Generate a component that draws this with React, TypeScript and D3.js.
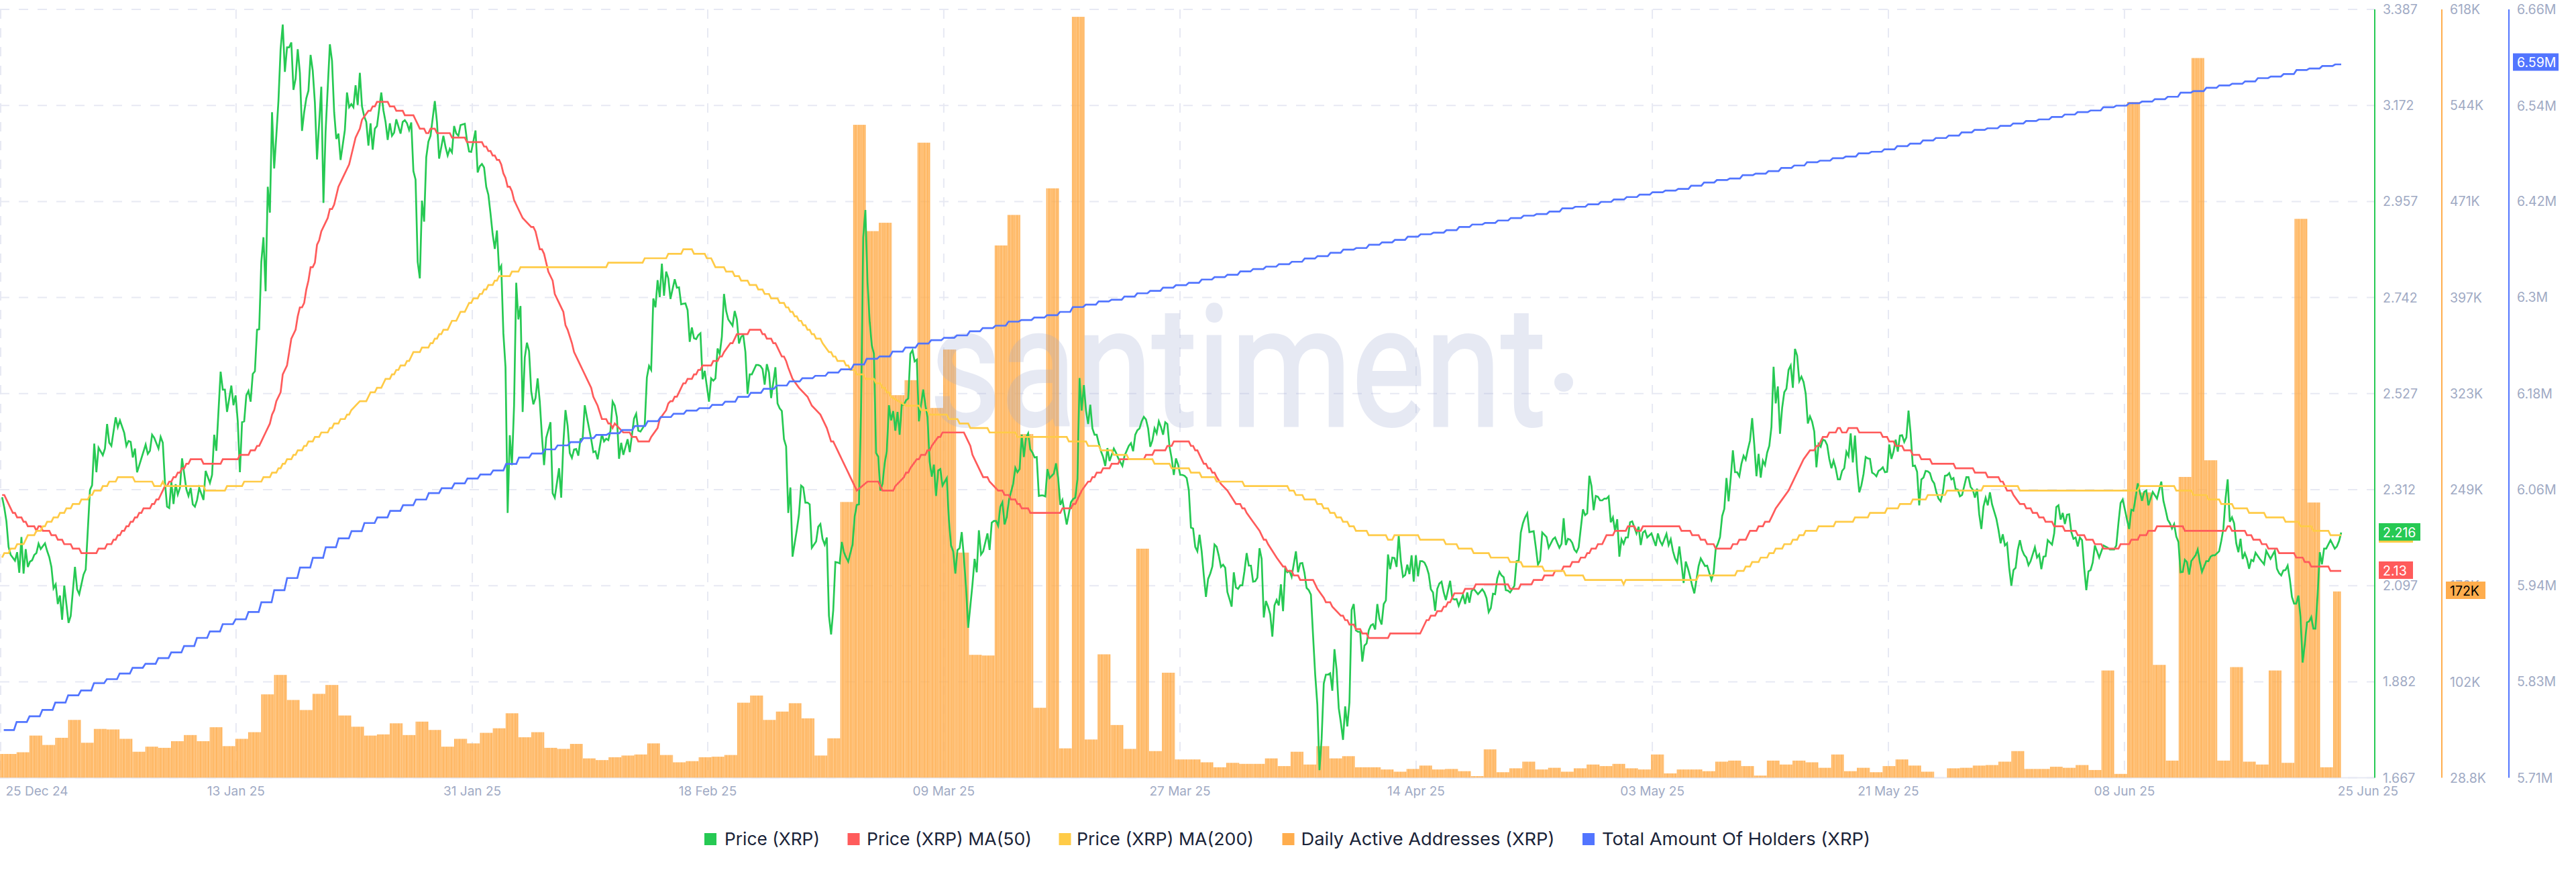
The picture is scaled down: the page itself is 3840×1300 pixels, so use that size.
import React from "react";
import * as d3 from "d3";

// ---- Tick labels ----
const priceTickValues = [3.387, 3.172, 2.957, 2.742, 2.527, 2.312, 2.097, 1.882, 1.667];
const addressTickValues = [618, 544.4, 470.7, 397, 323.4, 249.7, 176, 102.4, 28.8];
const addressTickLabels = ["618K", "544K", "471K", "397K", "323K", "249K", "176K", "102K", "28.8K"];
const holderTickValues = [6.66, 6.541, 6.423, 6.304, 6.185, 6.066, 5.948, 5.829, 5.71];
const holderTickLabels = ["6.66M", "6.54M", "6.42M", "6.3M", "6.18M", "6.06M", "5.94M", "5.83M", "5.71M"];
const dateTickLabels = ["25 Dec 24", "13 Jan 25", "31 Jan 25", "18 Feb 25", "09 Mar 25", "27 Mar 25", "14 Apr 25", "03 May 25", "21 May 25", "08 Jun 25", "25 Jun 25"];
// position of each date tick, in 4-hour samples from the start
const dateTickSamples = [0.3, 110.2, 220.5, 330.4, 440.6, 550.9, 661.1, 771.4, 881.6, 991.8];

const legendLabels = ["Price (XRP)", "Price (XRP) MA(50)", "Price (XRP) MA(200)", "Daily Active Addresses (XRP)", "Total Amount Of Holders (XRP)"];

// ---- Daily active addresses (thousands), one value per day ----
const activeAddresses: (number | null)[] = [
47.1,47.1,48.4,61.2,54.0,59.5,73.2,55.7,66.3,65.9,58.7,48.8,52.7,51.8,56.9,61.6,56.9,67.6,53.1,58.7,63.8,92.8,107.7,88.5,80.8,93.2,100,76.6,68,61.2,
62.1,70.6,61.6,71.9,65.5,52.7,58.7,55.2,63.3,66.8,78.3,59.9,63.8,51.8,51,54.8,43.7,42.4,44.6,45.9,46.7,55.2,46.3,40.7,41.6,44.6,45,46.3,86.4,91.9,
73.2,79.6,86,74.4,45.9,59.1,240.3,529.5,448,454.4,322.2,333.7,515.8,312.4,357.2,201.5,123.1,122.6,437,460.4,292.4,82.5,480.8,51.4,612.3,58.2,123.5,69.3,51,204.5,
49.3,109.4,42.9,42.9,40.7,36.9,40.3,39.5,39.5,43.7,37.8,48.8,39,53.1,43.7,45.4,36.9,36.9,35.2,33.5,35.6,38.2,35.2,35.6,33.9,30.1,50.6,33.1,36.1,41.2,
35.2,36.5,33.5,36.1,39,37.8,39.5,36.1,35.2,46.7,32.2,35.2,35.2,33.9,41.2,42,37.8,30.5,42,39,42,40.7,36.5,46.7,33.9,36.5,33.1,37.8,42.9,38.2,
33.5,null,36.1,36.5,38.2,38.6,41.2,49.3,35.6,35.6,37.3,36.5,38.6,34.8,111.1,31.8,547,247.6,115.4,42,259.5,580.7,272.3,42,113.7,41.2,39,111.1,40.3,457.4,
239.9,36.9,171.7
];

// ---- Total holders (millions), one value per day ----
const holders = [
5.769,5.779,5.786,5.794,5.803,5.812,5.818,5.827,5.832,5.839,5.846,5.851,5.858,5.865,5.873,5.883,5.891,5.900,5.906,5.915,5.927,5.942,5.957,5.970,5.982,5.995,6.006,6.015,6.025,6.032,
6.040,6.047,6.054,6.062,6.068,6.074,6.080,6.085,6.090,6.098,6.106,6.111,6.116,6.121,6.125,6.130,6.134,6.136,6.140,6.145,6.151,6.156,6.160,6.164,6.167,6.171,6.175,6.181,6.186,6.191,
6.195,6.200,6.204,6.207,6.211,6.215,6.221,6.228,6.231,6.237,6.242,6.247,6.251,6.254,6.257,6.262,6.266,6.269,6.274,6.276,6.279,6.282,6.286,6.292,6.295,6.299,6.301,6.305,6.309,6.312,
6.316,6.319,6.322,6.326,6.329,6.332,6.336,6.339,6.342,6.345,6.348,6.352,6.355,6.359,6.363,6.365,6.369,6.372,6.375,6.379,6.382,6.384,6.387,6.391,6.394,6.396,6.399,6.402,6.405,6.407,
6.410,6.414,6.416,6.419,6.422,6.425,6.428,6.431,6.434,6.436,6.438,6.442,6.446,6.449,6.451,6.455,6.457,6.460,6.464,6.467,6.471,6.473,6.476,6.478,6.482,6.484,6.487,6.491,6.494,6.498,
6.501,6.504,6.508,6.511,6.513,6.516,6.519,6.522,6.524,6.527,6.530,6.533,6.535,6.539,6.541,6.544,6.546,6.549,6.552,6.557,6.559,6.563,6.566,6.568,6.571,6.575,6.577,6.580,6.585,6.587,
6.590,6.592,6.594
];

// ---- Price vertices: [4-hour sample, price] ----
const price: [number, number][] = [
[1,2.295],[2,2.272],[3,2.241],[4,2.184],[5,2.166],[7,2.153],[8,2.172],[9,2.126],[10,2.206],[11,2.124],[12,2.179],[13,2.139],[14,2.151],[15,2.154],[16,2.166],[17,2.170],[18,2.191],[19,2.179],[21,2.192],[22,2.175],[23,2.161],[24,2.139],[25,2.091],[26,2.100],[27,2.056],[28,2.075],[29,2.021],[30,2.097],[32,2.014],[33,2.029],[35,2.139],[36,2.089],[37,2.078],[39,2.122],[40,2.133],[42,2.311],[43,2.322],[44,2.415],[45,2.351],[46,2.406],[48,2.389],[49,2.404],[50,2.459],[51,2.417],[52,2.410],[54,2.474],[55,2.452],[56,2.467],[58,2.439],[59,2.410],[60,2.421],[61,2.419],[62,2.384],[63,2.404],[64,2.351],[68,2.413],[69,2.392],[70,2.399],[71,2.435],[72,2.428],[74,2.404],[75,2.430],[76,2.417],[77,2.329],[78,2.274],[79,2.271],[80,2.329],[81,2.280],[82,2.324],[83,2.301],[84,2.316],[85,2.382],[87,2.313],[88,2.298],[89,2.316],[90,2.279],[91,2.274],[92,2.289],[93,2.316],[95,2.289],[96,2.354],[98,2.327],[99,2.345],[100,2.435],[101,2.399],[103,2.576],[104,2.536],[105,2.536],[106,2.486],[108,2.545],[109,2.501],[110,2.523],[111,2.465],[112,2.351],[113,2.463],[114,2.465],[115,2.523],[116,2.533],[117,2.509],[118,2.571],[119,2.577],[120,2.670],[121,2.671],[122,2.822],[123,2.877],[124,2.756],[125,2.990],[126,2.932],[127,3.157],[128,3.031],[129,3.104],[130,3.183],[131,3.298],[132,3.353],[133,3.247],[134,3.302],[135,3.302],[136,3.313],[137,3.207],[138,3.232],[139,3.298],[140,3.245],[141,3.115],[142,3.157],[143,3.188],[144,3.205],[145,3.285],[146,3.250],[147,3.179],[148,3.051],[150,3.214],[151,2.954],[152,3.113],[154,3.309],[155,3.272],[156,3.157],[157,3.097],[158,3.109],[159,3.050],[161,3.117],[162,3.201],[163,3.168],[164,3.175],[165,3.168],[166,3.217],[167,3.173],[168,3.245],[169,3.170],[170,3.148],[171,3.135],[172,3.082],[173,3.132],[174,3.073],[175,3.120],[176,3.126],[178,3.201],[179,3.161],[180,3.135],[181,3.095],[182,3.132],[183,3.104],[184,3.111],[185,3.141],[187,3.109],[188,3.135],[189,3.139],[190,3.132],[191,3.117],[192,3.134],[193,3.025],[194,3.006],[195,2.822],[196,2.785],[197,2.959],[198,2.912],[199,3.056],[200,3.091],[201,3.104],[203,3.182],[204,3.135],[205,3.053],[207,3.104],[208,3.079],[209,3.060],[210,3.075],[211,3.067],[212,3.126],[213,3.109],[214,3.104],[215,3.128],[217,3.131],[218,3.094],[219,3.069],
[220,3.068],[222,3.116],[223,3.022],[224,3.036],[225,3.041],[226,3.033],[227,2.990],[228,2.972],[229,2.930],[230,2.884],[231,2.851],[232,2.892],[233,2.804],[234,2.813],[235,2.662],[236,2.586],[237,2.260],[238,2.434],[239,2.367],[240,2.501],[241,2.775],[242,2.693],[243,2.723],[244,2.486],[245,2.608],[246,2.641],[247,2.622],[248,2.532],[249,2.503],[250,2.517],[251,2.561],[252,2.509],[253,2.432],[254,2.367],[255,2.428],[257,2.463],[258,2.304],[259,2.294],[261,2.360],[262,2.294],[263,2.417],[264,2.490],[265,2.455],[266,2.394],[267,2.383],[268,2.402],[269,2.403],[270,2.388],[271,2.425],[272,2.426],[273,2.501],[274,2.474],[276,2.425],[277,2.396],[278,2.398],[279,2.380],[281,2.436],[282,2.420],[283,2.426],[284,2.423],[285,2.444],[286,2.509],[287,2.500],[288,2.474],[289,2.381],[290,2.417],[291,2.390],[293,2.425],[294,2.396],[296,2.471],[297,2.482],[298,2.444],[299,2.442],[301,2.457],[302,2.563],[303,2.589],[304,2.580],[305,2.740],[306,2.720],[307,2.781],[308,2.743],[309,2.818],[310,2.746],[311,2.800],[312,2.785],[313,2.739],[315,2.783],[316,2.764],[317,2.765],[318,2.727],[320,2.729],[321,2.714],[322,2.643],[323,2.675],[324,2.651],[325,2.649],[326,2.658],[327,2.662],[328,2.559],[329,2.578],[330,2.543],[331,2.509],[332,2.561],[333,2.556],[334,2.561],[335,2.628],[336,2.616],[337,2.654],[338,2.750],[339,2.712],[340,2.693],[342,2.679],[343,2.712],[344,2.693],[345,2.639],[346,2.654],[347,2.658],[348,2.620],[349,2.526],[350,2.570],[351,2.570],[353,2.591],[354,2.591],[355,2.589],[356,2.582],[357,2.547],[358,2.593],[359,2.574],[360,2.517],[362,2.586],[363,2.505],[364,2.494],[365,2.488],[366,2.425],[367,2.409],[368,2.260],[369,2.317],[370,2.162],[372,2.222],[373,2.256],[374,2.321],[375,2.317],[376,2.283],[377,2.283],[378,2.279],[379,2.182],[380,2.189],[381,2.196],[382,2.229],[383,2.235],[384,2.202],[385,2.189],[386,2.205],[387,2.030],[388,1.988],[389,2.042],[390,2.150],[391,2.149],[392,2.147],[393,2.195],[394,2.172],[395,2.160],[396,2.151],[398,2.189],[399,2.252],[400,2.278],[401,2.279],[402,2.494],[403,2.877],[404,2.938],[405,2.777],[406,2.689],[407,2.635],[408,2.616],[409,2.394],[410,2.386],[411,2.310],[412,2.325],[413,2.371],[414,2.398],[415,2.501],[416,2.467],[417,2.488],[418,2.444],[419,2.486],
[420,2.435],[421,2.502],[422,2.502],[423,2.512],[424,2.516],[425,2.616],[426,2.624],[427,2.599],[428,2.603],[429,2.465],[430,2.502],[431,2.536],[432,2.502],[433,2.475],[434,2.375],[435,2.341],[436,2.368],[437,2.298],[438,2.355],[439,2.358],[440,2.321],[442,2.338],[443,2.244],[444,2.187],[445,2.174],[446,2.124],[447,2.177],[448,2.181],[449,2.217],[450,2.160],[451,2.093],[452,2.003],[454,2.100],[455,2.157],[456,2.127],[457,2.221],[458,2.167],[459,2.174],[461,2.214],[462,2.177],[463,2.238],[464,2.242],[465,2.242],[466,2.231],[467,2.274],[468,2.284],[469,2.234],[470,2.251],[471,2.288],[473,2.325],[474,2.361],[475,2.351],[476,2.358],[477,2.435],[478,2.385],[479,2.428],[480,2.438],[481,2.402],[482,2.395],[483,2.384],[484,2.385],[485,2.298],[486,2.299],[487,2.299],[488,2.297],[489,2.358],[490,2.338],[492,2.348],[493,2.371],[494,2.338],[495,2.278],[496,2.289],[497,2.261],[498,2.234],[500,2.284],[501,2.291],[502,2.294],[503,2.335],[504,2.562],[505,2.489],[506,2.546],[507,2.489],[508,2.459],[509,2.502],[510,2.449],[511,2.435],[512,2.435],[513,2.415],[514,2.398],[515,2.385],[516,2.365],[517,2.405],[518,2.376],[520,2.404],[521,2.395],[522,2.383],[524,2.365],[525,2.388],[527,2.410],[528,2.416],[529,2.398],[530,2.435],[531,2.445],[532,2.449],[533,2.465],[534,2.475],[535,2.469],[536,2.449],[537,2.408],[538,2.422],[539,2.449],[540,2.438],[541,2.465],[542,2.452],[543,2.435],[544,2.463],[545,2.459],[546,2.408],[547,2.382],[548,2.345],[549,2.382],[550,2.368],[551,2.345],[552,2.345],[553,2.343],[554,2.338],[555,2.311],[556,2.227],[557,2.225],[558,2.184],[559,2.174],[560,2.211],[561,2.174],[562,2.120],[563,2.072],[564,2.112],[565,2.124],[566,2.140],[567,2.189],[568,2.184],[569,2.164],[570,2.139],[571,2.144],[572,2.137],[573,2.083],[574,2.067],[575,2.050],[576,2.127],[577,2.093],[578,2.090],[579,2.098],[580,2.098],[581,2.130],[582,2.170],[583,2.142],[584,2.142],[585,2.106],[586,2.107],[587,2.115],[588,2.181],[589,2.157],[590,2.026],[591,2.063],[592,2.050],[593,2.033],[594,1.983],[595,2.053],[596,2.065],[597,2.053],[598,2.100],[599,2.040],[600,2.134],[601,2.127],[602,2.130],[603,2.117],[605,2.174],[606,2.127],[607,2.147],
[608,2.148],[609,2.126],[610,2.092],[611,2.087],[612,2.077],[613,1.986],[614,1.898],[615,1.831],[616,1.684],[617,1.754],[618,1.878],[619,1.898],[620,1.898],[621,1.901],[622,1.862],[623,1.955],[624,1.909],[625,1.823],[626,1.790],[627,1.752],[628,1.827],[629,1.782],[630,1.836],[631,2.043],[632,2.056],[633,1.997],[634,1.994],[635,1.994],[636,1.927],[637,1.963],[638,1.968],[639,1.997],[640,2.008],[641,2.011],[642,1.999],[643,2.056],[644,2.023],[645,2.010],[646,2.056],[647,2.064],[648,2.167],[649,2.134],[650,2.160],[651,2.159],[652,2.139],[653,2.209],[654,2.152],[655,2.117],[656,2.121],[657,2.144],[658,2.123],[659,2.165],[660,2.106],[661,2.165],[662,2.118],[663,2.152],[664,2.152],[665,2.149],[666,2.139],[667,2.123],[668,2.089],[669,2.082],[670,2.041],[671,2.090],[672,2.102],[673,2.106],[674,2.082],[675,2.065],[677,2.108],[678,2.069],[679,2.066],[680,2.067],[681,2.052],[683,2.077],[684,2.056],[685,2.082],[686,2.059],[687,2.085],[688,2.090],[690,2.078],[692,2.089],[693,2.082],[694,2.069],[695,2.038],[696,2.047],[697,2.079],[698,2.078],[699,2.113],[700,2.128],[701,2.120],[702,2.116],[703,2.087],[704,2.086],[705,2.082],[707,2.097],[708,2.152],[709,2.153],[710,2.216],[711,2.237],[712,2.250],[713,2.259],[714,2.217],[716,2.219],[717,2.183],[718,2.144],[719,2.153],[720,2.216],[722,2.206],[723,2.182],[725,2.201],[726,2.205],[727,2.193],[728,2.182],[729,2.191],[730,2.248],[731,2.188],[732,2.202],[733,2.200],[734,2.193],[735,2.178],[736,2.172],[737,2.183],[739,2.268],[740,2.255],[741,2.259],[742,2.343],[743,2.320],[744,2.266],[745,2.298],[746,2.296],[747,2.288],[748,2.288],[749,2.292],[750,2.292],[751,2.297],[752,2.239],[753,2.250],[754,2.219],[755,2.246],[756,2.162],[757,2.201],[758,2.191],[759,2.205],[760,2.205],[761,2.239],[762,2.241],[764,2.214],[765,2.229],[766,2.188],[767,2.216],[768,2.220],[769,2.205],[771,2.214],[773,2.186],[774,2.214],[775,2.197],[776,2.188],[778,2.213],[779,2.188],[780,2.201],[781,2.175],[782,2.158],[783,2.149],[784,2.185],[785,2.146],[786,2.103],[787,2.151],[788,2.136],[789,2.118],[790,2.097],[791,2.080],[793,2.141],[794,2.158],[796,2.141],[797,2.142],[798,2.126],[799,2.110],[800,2.126],[801,2.180],[802,2.191],[803,2.206],[804,2.253],[805,2.269],[806,2.338],[807,2.286],[808,2.338],[809,2.400],[810,2.351],[811,2.351],[812,2.342],[813,2.370],
[814,2.388],[815,2.379],[816,2.402],[817,2.422],[818,2.472],[819,2.412],[820,2.342],[821,2.392],[822,2.339],[823,2.377],[824,2.367],[825,2.395],[826,2.410],[827,2.452],[828,2.587],[829,2.505],[830,2.543],[831,2.437],[832,2.495],[833,2.530],[834,2.538],[835,2.580],[836,2.590],[837,2.540],[838,2.627],[839,2.612],[840,2.555],[841,2.565],[842,2.553],[843,2.527],[844,2.460],[845,2.476],[846,2.464],[847,2.442],[848,2.362],[849,2.414],[850,2.408],[851,2.424],[852,2.422],[853,2.412],[854,2.381],[855,2.360],[856,2.377],[857,2.360],[858,2.335],[859,2.335],[860,2.354],[861,2.360],[862,2.397],[863,2.387],[864,2.438],[865,2.373],[866,2.433],[867,2.357],[868,2.306],[869,2.322],[870,2.347],[871,2.385],[872,2.382],[873,2.381],[874,2.350],[875,2.347],[876,2.342],[877,2.354],[878,2.357],[879,2.362],[880,2.351],[881,2.352],[882,2.413],[883,2.381],[884,2.397],[885,2.424],[886,2.397],[887,2.433],[888,2.434],[889,2.419],[890,2.429],[891,2.489],[892,2.437],[893,2.365],[894,2.366],[895,2.352],[896,2.277],[897,2.335],[898,2.339],[899,2.354],[900,2.353],[901,2.349],[902,2.333],[903,2.326],[904,2.306],[905,2.292],[906,2.286],[907,2.305],[908,2.343],[909,2.344],[910,2.349],[911,2.335],[912,2.338],[913,2.313],[914,2.312],[915,2.297],[916,2.300],[918,2.340],[919,2.340],[920,2.318],[921,2.312],[922,2.294],[923,2.314],[924,2.257],[925,2.224],[926,2.274],[927,2.294],[928,2.277],[929,2.306],[930,2.279],[932,2.247],[933,2.222],[934,2.192],[935,2.212],[936,2.187],[937,2.192],[938,2.137],[939,2.097],[940,2.132],[941,2.137],[942,2.177],[943,2.199],[944,2.177],[945,2.166],[946,2.160],[947,2.143],[948,2.152],[950,2.183],[951,2.160],[952,2.167],[953,2.134],[954,2.162],[955,2.163],[956,2.199],[958,2.189],[959,2.214],[960,2.273],[961,2.277],[962,2.245],[963,2.260],[964,2.235],[965,2.256],[966,2.257],[967,2.217],[968,2.202],[969,2.205],[970,2.185],[971,2.205],[972,2.199],[973,2.137],[974,2.087],[975,2.129],[976,2.132],[977,2.149],[978,2.187],[979,2.174],[980,2.160],[982,2.187],[984,2.182],[985,2.178],[987,2.178],[988,2.187],[989,2.237],[990,2.282],[991,2.290],[993,2.245],[994,2.224],[995,2.267],[996,2.265],[997,2.294],[998,2.326],[999,2.307],[1000,2.287],[1001,2.307],
[1002,2.310],[1003,2.277],[1005,2.307],[1007,2.292],[1009,2.330],[1010,2.287],[1011,2.267],[1012,2.245],[1013,2.237],[1014,2.225],[1015,2.235],[1016,2.207],[1017,2.195],[1018,2.127],[1019,2.128],[1020,2.155],[1021,2.150],[1022,2.122],[1023,2.152],[1025,2.165],[1026,2.178],[1027,2.150],[1028,2.128],[1030,2.152],[1031,2.152],[1032,2.162],[1033,2.165],[1034,2.165],[1036,2.174],[1037,2.197],[1038,2.225],[1039,2.292],[1040,2.335],[1041,2.240],[1042,2.250],[1043,2.237],[1044,2.192],[1045,2.172],[1046,2.202],[1047,2.157],[1048,2.170],[1049,2.157],[1050,2.135],[1051,2.155],[1052,2.152],[1053,2.171],[1055,2.157],[1057,2.145],[1058,2.175],[1060,2.157],[1062,2.175],[1063,2.135],[1064,2.125],[1065,2.120],[1066,2.131],[1067,2.132],[1068,2.142],[1069,2.112],[1070,2.072],[1071,2.057],[1072,2.057],[1073,2.075],[1074,2.027],[1075,1.925],[1076,1.967],[1077,2.015],[1078,2.017],[1079,2.027],[1080,2.001],[1081,2.001],[1082,2.077],[1083,2.172],[1084,2.145],[1085,2.180],[1086,2.180],[1088,2.199],[1090,2.180],[1091,2.185],[1092,2.197],[1093,2.216]
];

// ---- MA(50): [4-hour sample where the value is reached, value] ----
const ma50: [number, number][] = [
[1,2.30],[3,2.29],[4,2.28],[6,2.26],[8,2.25],[11,2.24],[13,2.23],[17,2.22],[18,2.23],[20,2.22],[24,2.21],[27,2.20],[30,2.19],[34,2.18],[38,2.17],[46,2.18],[50,2.19],[53,2.20],[55,2.21],[57,2.22],[59,2.23],[61,2.24],[63,2.25],[65,2.26],[67,2.27],[71,2.28],[73,2.29],[75,2.30],[76,2.31],[77,2.32],[79,2.33],[81,2.34],[83,2.35],[85,2.36],[87,2.37],[89,2.38],[95,2.37],[104,2.38],[112,2.39],[117,2.40],[120,2.41],[122,2.42],[124,2.44],[126,2.46],[127,2.48],[128,2.49],[129,2.51],[131,2.53],[132,2.57],[134,2.59],[135,2.62],[136,2.65],[138,2.67],[139,2.70],[140,2.72],[142,2.73],[143,2.76],[144,2.78],[145,2.81],[147,2.82],[148,2.86],[149,2.87],[150,2.89],[152,2.91],[153,2.92],[154,2.94],[156,2.95],[157,2.97],[158,2.99],[160,3.01],[162,3.03],[163,3.04],[164,3.06],[165,3.08],[166,3.10],[168,3.12],[169,3.14],[172,3.16],[174,3.17],[176,3.18],[182,3.17],[185,3.16],[189,3.15],[194,3.14],[195,3.13],[196,3.12],[199,3.11],[201,3.12],[204,3.11],[211,3.10],[218,3.09],
[226,3.08],[228,3.07],[230,3.06],[232,3.05],[234,3.04],[235,3.02],[236,3.01],[237,2.99],[239,2.98],[240,2.96],[242,2.94],[244,2.92],[248,2.90],[250,2.89],[251,2.87],[252,2.85],[254,2.84],[255,2.82],[256,2.80],[258,2.78],[259,2.75],[261,2.73],[263,2.71],[264,2.68],[265,2.67],[267,2.64],[268,2.62],[270,2.60],[272,2.58],[274,2.56],[276,2.54],[277,2.52],[279,2.50],[281,2.47],[284,2.46],[286,2.45],[287,2.46],[291,2.44],[295,2.43],[298,2.42],[304,2.43],[307,2.45],[308,2.47],[311,2.49],[312,2.505],[313,2.51],[315,2.52],[317,2.53],[319,2.55],[321,2.56],[324,2.57],[326,2.58],[328,2.59],[333,2.60],[336,2.61],[338,2.62],[341,2.64],[343,2.65],[344,2.66],[350,2.67],[356,2.66],[358,2.65],[361,2.64],[363,2.63],[365,2.61],[367,2.60],[368,2.585],[370,2.56],[373,2.54],[377,2.52],[379,2.50],[383,2.48],[386,2.45],[388,2.42],[390,2.41],[391,2.40],[392,2.39],[393,2.38],[394,2.37],[395,2.36],[396,2.35],[397,2.34],[398,2.33],[399,2.32],
[400,2.31],[405,2.33],[411,2.32],[412,2.31],[418,2.32],[422,2.34],[423,2.35],[425,2.36],[428,2.38],[430,2.39],[433,2.40],[435,2.41],[438,2.43],[440,2.44],[451,2.43],[453,2.41],[454,2.39],[456,2.37],[459,2.34],[462,2.33],[466,2.31],[469,2.30],[472,2.29],[475,2.28],[477,2.27],[481,2.26],[496,2.27],[501,2.28],[503,2.29],[505,2.31],[508,2.33],[510,2.34],[512,2.35],[515,2.36],[519,2.37],[523,2.38],[535,2.39],[539,2.40],[545,2.41],[548,2.42],[556,2.41],[558,2.40],[560,2.39],[562,2.37],[564,2.36],[566,2.35],[568,2.34],[570,2.325],[573,2.31],[575,2.295],[577,2.28],[580,2.27],[582,2.26],[585,2.24],[588,2.22],[590,2.20],[592,2.19],[596,2.16],[599,2.14],[601,2.13],[604,2.12],[607,2.11],
[614,2.10],[615,2.09],[618,2.07],[619,2.06],[622,2.05],[626,2.03],[628,2.02],[630,2.01],[633,2.00],[636,1.99],[639,1.98],[649,1.99],[663,1.99],[666,2.02],[668,2.03],[671,2.04],[674,2.05],[676,2.06],[678,2.07],[679,2.08],[684,2.09],[689,2.10],[705,2.09],[710,2.10],[716,2.11],[721,2.12],[726,2.13],[730,2.14],[734,2.15],[738,2.16],[741,2.17],[743,2.18],[746,2.19],[749,2.20],[750,2.21],[754,2.22],[760,2.23],[764,2.22],[767,2.23],[785,2.22],[790,2.21],[794,2.20],[797,2.19],[801,2.18],[809,2.19],[812,2.20],
[816,2.21],[817,2.22],[821,2.23],[824,2.24],[827,2.25],[829,2.27],[832,2.29],[835,2.31],[839,2.35],[842,2.38],[845,2.40],[848,2.41],[850,2.42],[851,2.43],[854,2.44],[858,2.45],[860,2.44],[863,2.45],[868,2.44],[879,2.43],[882,2.42],[885,2.41],[889,2.40],[893,2.39],[897,2.38],[902,2.37],[913,2.36],[922,2.35],[928,2.34],[934,2.33],[936,2.32],[937,2.31],[940,2.30],[943,2.28],[946,2.27],[949,2.26],[952,2.25],[955,2.24],[959,2.23],[964,2.22],[970,2.21],[974,2.20],[978,2.19],[982,2.18],[990,2.19],[995,2.20],[999,2.21],
[1003,2.22],[1007,2.23],[1020,2.22],[1040,2.23],[1042,2.22],[1049,2.21],[1052,2.20],[1056,2.19],[1059,2.18],[1064,2.17],[1072,2.16],[1076,2.15],[1079,2.14],[1088,2.13],[1093,2.13]
];

// ---- MA(200): [4-hour sample where the value is reached, value] ----
const ma200: [number, number][] = [
[1,2.16],[2,2.17],[5,2.18],[8,2.19],[12,2.20],[13,2.21],[17,2.22],[20,2.23],[22,2.24],[25,2.25],[28,2.26],[31,2.27],[34,2.28],[38,2.29],[42,2.30],[44,2.31],[48,2.32],[51,2.33],[55,2.34],[63,2.33],[72,2.32],[76,2.33],[77,2.32],[96,2.31],[106,2.32],[114,2.33],[123,2.34],[127,2.35],[130,2.36],[132,2.37],[134,2.38],[137,2.39],[139,2.40],[142,2.41],[144,2.42],[147,2.43],[150,2.44],[154,2.45],[156,2.46],[159,2.47],[162,2.48],[164,2.49],[168,2.51],[172,2.52],[173,2.53],[176,2.54],[179,2.55],[180,2.56],[183,2.57],[185,2.58],[187,2.59],[190,2.60],[192,2.61],[193,2.62],[197,2.63],[201,2.64],[203,2.65],[205,2.66],[207,2.67],[210,2.68],[211,2.69],[214,2.70],[215,2.71],[218,2.72],
[219,2.73],[221,2.74],[224,2.75],[226,2.76],[228,2.77],[231,2.78],[233,2.79],[239,2.80],[243,2.81],[284,2.82],[301,2.83],[312,2.84],[319,2.85],[324,2.84],[330,2.83],[333,2.82],[334,2.81],[339,2.80],[343,2.79],[346,2.78],[350,2.77],[354,2.76],[357,2.75],[360,2.74],[364,2.73],[367,2.72],[369,2.71],[371,2.70],[373,2.69],[375,2.68],[377,2.67],[379,2.66],[381,2.65],[384,2.64],[387,2.62],[389,2.61],[391,2.60],[395,2.59],[397,2.58],[400,2.57],[404,2.56],[409,2.55],[412,2.54],[414,2.53],[416,2.52],[423,2.50],[430,2.49],[434,2.48],[443,2.47],[448,2.46],[453,2.45],[462,2.44],[475,2.43],[499,2.42],[508,2.41],[514,2.40],[520,2.39],[527,2.38],[539,2.37],[547,2.36],[556,2.35],[561,2.34],[568,2.33],[581,2.32],[602,2.31],[605,2.30],[609,2.29],[615,2.28],[618,2.27],[621,2.26],[624,2.25],[627,2.24],[630,2.23],[633,2.22],[639,2.21],[648,2.20],[651,2.21],[663,2.20],[675,2.19],[681,2.18],[688,2.17],[696,2.16],[705,2.15],[711,2.14],[721,2.13],[731,2.12],[740,2.11],[758,2.10],[759,2.11],[793,2.12],[811,2.13],[815,2.14],[818,2.15],[822,2.16],[826,2.17],[829,2.18],[833,2.19],[837,2.20],[840,2.21],[843,2.22],[849,2.23],[857,2.24],[866,2.25],[873,2.26],[881,2.27],[887,2.28],[893,2.29],[900,2.30],[909,2.31],[926,2.32],[943,2.31],[999,2.32],[1016,2.31],[1024,2.30],[1031,2.29],[1037,2.28],[1043,2.27],[1050,2.26],[1058,2.25],[1067,2.24],[1074,2.23],[1080,2.22],[1088,2.21],[1093,2.21]
];

// ---- Layout ----
const W = 3840, H = 1300;
const TOP = 14, BOTTOM = 1159.6, RIGHT = 3540, DATA_END = 3490;
const GREEN = "#26c953", RED = "#ff5b5b", YELLOW = "#ffcb47", ORANGE = "#ffad4d", BLUE = "#5275ff", TICK = "#9faac4", GRID = "#e7e9f3";
const FONT = "Inter, 'Noto Sans', sans-serif";
const LINE_W = 2.7;
const TICK_SIZE = 19.5;

const yPrice = d3.scaleLinear().domain([1.667, 3.387]).range([BOTTOM, TOP]);
const yAddresses = d3.scaleLinear().domain([28.8, 618]).range([BOTTOM, TOP]);
const yHolders = d3.scaleLinear().domain([5.71, 6.66]).range([BOTTOM, TOP]);
const xSample = d3.scaleLinear().domain([0, 1093]).range([0, DATA_END]);
const xBar = d3.scaleLinear().domain([0, 182]).range([-4, 3487.5]);
const xHolder = d3.scaleLinear().domain([0, holders.length - 2]).range([3.6, 3479]);
const BAR_W = xBar(1) - xBar(0);

const priceLine = d3.line<[number, number]>().x((d) => xSample(d[0])).y((d) => yPrice(d[1]));
const holderLine = d3.line<[number, number]>().x((d) => d[0]).y((d) => yHolders(d[1]));

// A rounded moving average holds its level, then moves within one sample.
function staircase(points: [number, number][]): [number, number][] {
  const out: [number, number][] = [];
  points.forEach((p, i) => {
    if (i > 0) {
      const prev = points[i - 1];
      if (Math.abs(p[1] - prev[1]) < 0.0101 && p[0] - 1 > prev[0]) out.push([p[0] - 1, prev[1]]);
    }
    out.push(p);
  });
  return out;
}

const holderPoints: [number, number][] = holders.flatMap((v, i) => {
  const from = xHolder(i) + 2;
  const to = Math.min(xHolder(i + 1) - 2, DATA_END);
  return i === holders.length - 1 ? [] as [number, number][] : ([[from, v], [i === holders.length - 2 ? DATA_END : to, v]] as [number, number][]);
});

const legendX = [[1050, 1080], [1263.5, 1292], [1578.5, 1605], [1911.5, 1939.5], [2359, 2388]];
const legendWidths = [142, 246, 264, 378, 400];
const legendColors = [GREEN, RED, YELLOW, ORANGE, BLUE];

function Badge({ x, y, w, fill, color, label, tx }: { x: number; y: number; w: number; fill: string; color: string; label: string; tx: number }) {
  return (
    <g>
      <rect x={x} y={y} width={w} height={26} fill={fill} />
      <text x={tx} y={y + 13.5} dy="0.36em" fontSize={TICK_SIZE} fill={color} fontFamily={FONT}>{label}</text>
    </g>
  );
}

export default function App() {
  return (
    <svg width={W} height={H} viewBox={`0 0 ${W} ${H}`} style={{ position: "absolute", left: 0, top: 0, display: "block", background: "#fff" }}>
      <defs>
        <clipPath id="plot"><rect x={0} y={0} width={DATA_END} height={BOTTOM} /></clipPath>
        <pattern id="barStripes" patternUnits="userSpaceOnUse" x={xBar(0) - BAR_W / 2} y={0} width={BAR_W / 8} height={10}>
          <rect width={BAR_W / 8} height={10} fill={ORANGE} opacity={0.5} />
          <rect width={BAR_W / 8 - 1} height={10} fill={ORANGE} />
        </pattern>
      </defs>

      {/* grid */}
      {priceTickValues.map((v) => (
        <line key={v} x1={0} x2={RIGHT} y1={yPrice(v)} y2={yPrice(v)} stroke={GRID} strokeWidth={2} strokeDasharray="14 14" />
      ))}
      {dateTickSamples.map((s) => (
        <line key={s} x1={xSample(s)} x2={xSample(s)} y1={TOP} y2={BOTTOM} stroke={GRID} strokeWidth={2} strokeDasharray="14 14" />
      ))}
      <line x1={0} x2={RIGHT} y1={BOTTOM} y2={BOTTOM} stroke={GRID} strokeWidth={2} />

      {/* bars */}
      <g clipPath="url(#plot)">
        {activeAddresses.map((v, i) =>
          v == null ? null : (
            <rect key={i} x={xBar(i) - BAR_W / 2} y={yAddresses(v)} width={BAR_W} height={BOTTOM - yAddresses(v)} fill="url(#barStripes)" />
          )
        )}
      </g>

      {/* watermark */}
      <g opacity={0.25} fill="#9fabd3">
        <text x={1386} y={634} fontSize={250} fontFamily="Roboto, 'Noto Sans', sans-serif" textLength={919} lengthAdjust="spacingAndGlyphs" stroke="#9fabd3" strokeWidth={4}>santiment</text>
        <circle cx={2331} cy={570} r={14} />
      </g>

      {/* lines */}
      <path d={priceLine(price) || ""} fill="none" stroke={GREEN} strokeWidth={LINE_W} />
      <path d={priceLine(staircase(ma50)) || ""} fill="none" stroke={RED} strokeWidth={LINE_W} />
      <path d={priceLine(staircase(ma200)) || ""} fill="none" stroke={YELLOW} strokeWidth={LINE_W} />
      <path d={holderLine(holderPoints) || ""} fill="none" stroke={BLUE} strokeWidth={LINE_W} />

      {/* axes */}
      <line x1={RIGHT} x2={RIGHT} y1={TOP} y2={BOTTOM} stroke={GREEN} strokeWidth={2} />
      <line x1={3640} x2={3640} y1={TOP} y2={BOTTOM} stroke={ORANGE} strokeWidth={2} />
      <line x1={3740} x2={3740} y1={TOP} y2={BOTTOM} stroke={BLUE} strokeWidth={2} />

      {priceTickValues.map((v) => (
        <text key={v} x={3552} y={yPrice(v)} dy="0.36em" fontSize={TICK_SIZE} fill={TICK} fontFamily={FONT}>{v.toFixed(3)}</text>
      ))}
      {addressTickValues.map((v, i) => (
        <text key={v} x={3652} y={yAddresses(v)} dy="0.36em" fontSize={TICK_SIZE} fill={TICK} fontFamily={FONT}>{addressTickLabels[i]}</text>
      ))}
      {holderTickValues.map((v, i) => (
        <text key={v} x={3752} y={yHolders(v)} dy="0.36em" fontSize={TICK_SIZE} fill={TICK} fontFamily={FONT}>{holderTickLabels[i]}</text>
      ))}

      {/* date labels */}
      {dateTickLabels.map((label, i) => {
        const x = i === 0 ? 55 : i === dateTickLabels.length - 1 ? 3530 : xSample(dateTickSamples[i]);
        return <text key={label} x={x} y={1179} dy="0.36em" textAnchor="middle" fontSize={19} fill={TICK} fontFamily={FONT}>{label}</text>;
      })}

      {/* value badges */}
      <rect x={3546} y={783} width={51} height={26} fill={YELLOW} />
      <Badge x={3546} y={780} w={62} fill={GREEN} color="#fff" label="2.216" tx={3552} />
      <Badge x={3546} y={837} w={51} fill={RED} color="#fff" label="2.13" tx={3552} />
      <Badge x={3646} y={867} w={59} fill={ORANGE} color="#000" label="172K" tx={3652} />
      <Badge x={3746} y={79.5} w={68} fill={BLUE} color="#fff" label="6.59M" tx={3752} />

      {/* legend */}
      {legendLabels.map((label, i) => (
        <g key={label}>
          <rect x={legendX[i][0]} y={1242} width={18} height={18} fill={legendColors[i]} />
          <text x={legendX[i][1]} y={1251} dy="0.36em" fontSize={26} fill="#1a2338" fontFamily={FONT} textLength={legendWidths[i]} lengthAdjust="spacingAndGlyphs">{label}</text>
        </g>
      ))}
    </svg>
  );
}
